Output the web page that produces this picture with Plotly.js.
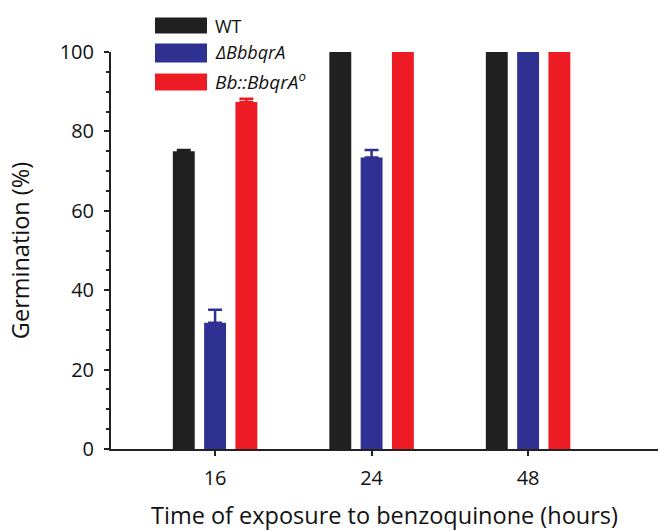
<!DOCTYPE html>
<html>
<head>
<meta charset="utf-8">
<script src="https://cdn.plot.ly/plotly-3.0.1.min.js"></script>
<style>html,body{margin:0;padding:0;background:#fff;}#chart{width:658px;height:531px;}</style>
</head>
<body>
<div id="chart"></div>
<script>
const categories = ['16', '24', '48'];
const seriesNames = ['WT', '<i>ΔBbbqrA</i>', '<i>Bb::BbqrA<sup>o</sup></i>'];
const wtValues = [75, 100, 100];
const wtErrors = [0.3, 0, 0];
const deltaValues = [31.8, 73.4, 100];
const deltaErrors = [3.3, 1.9, 0];
const compValues = [87.4, 100, 100];
const compErrors = [0.8, 0, 0];
const yTicks = [0, 20, 40, 60, 80, 100];
const colors = ['#202020', '#2e3192', '#ed1c24'];

const FONT = 'Open Sans, sans-serif';
const values = [wtValues, deltaValues, compValues];
const errors = [wtErrors, deltaErrors, compErrors];

const traces = values.map((v, i) => ({
  type: 'bar',
  x: categories,
  y: v,
  name: seriesNames[i],
  marker: {color: colors[i], line: {width: 0}},
  error_y: {type: 'data', symmetric: false, array: errors[i], arrayminus: errors[i].map(() => 0),
            color: colors[i], thickness: 2.5, width: 7, visible: true},
  showlegend: false,
  hoverinfo: 'skip'
}));

// custom legend (large swatches) in paper coordinates
const L = 111, W = 547, B = 449, H = 397.5;
const px = x => (x - L) / W;
const py = y => (B - y) / H;
const legendRows = [
  {y0: 17, y1: 33, ty: 25},
  {y0: 43, y1: 62, ty: 52},
  {y0: 73, y1: 90, ty: 81}
];
const shapes = legendRows.map((r, i) => ({
  type: 'rect', xref: 'paper', yref: 'paper',
  x0: px(155), x1: px(207), y0: py(r.y1), y1: py(r.y0),
  fillcolor: colors[i], line: {width: 0}
}));
const annotations = legendRows.map((r, i) => ({
  xref: 'paper', yref: 'paper', x: px(213), y: py(r.ty),
  xanchor: 'left', yanchor: 'middle', showarrow: false,
  text: seriesNames[i], font: {family: FONT, size: i === 2 ? 19 : 18, color: '#111'}
}));

const layout = {
  width: 658, height: 531,
  margin: {l: L, r: 0, t: 51.5, b: 531 - B},
  paper_bgcolor: '#fff', plot_bgcolor: '#fff',
  barmode: 'group', bargap: 0.4, bargroupgap: 0.3,
  font: {family: FONT, size: 19, color: '#111'},
  xaxis: {
    type: 'category', range: [-0.665, 2.83],
    showline: true, linecolor: '#222', linewidth: 2,
    ticks: 'outside', ticklen: 5, tickwidth: 2, tickcolor: '#222',
    ticklabelstandoff: 5,
    showgrid: false, zeroline: false,
    tickfont: {family: FONT, size: 20, color: '#111'},
    title: {text: 'Time of exposure to benzoquinone (hours)', standoff: 19,
            font: {family: FONT, size: 23.5, color: '#111'}}
  },
  yaxis: {
    range: [0, 100], tickvals: yTicks, ticktext: yTicks.map(String),
    showline: true, linecolor: '#222', linewidth: 2,
    ticks: 'outside', ticklen: 5, tickwidth: 2, tickcolor: '#222',
    minor: {dtick: 5, ticks: 'outside', ticklen: 3, tickwidth: 2, tickcolor: '#222', showgrid: false},
    ticklabelstandoff: 6,
    showgrid: false, zeroline: false,
    tickfont: {family: FONT, size: 20, color: '#111'},
    title: {text: 'Germination (%)', standoff: 23,
            font: {family: FONT, size: 23.5, color: '#111'}}
  },
  shapes: shapes,
  annotations: annotations
};

Plotly.newPlot('chart', traces, layout, {displayModeBar: false, staticPlot: true});
</script>
</body>
</html>
